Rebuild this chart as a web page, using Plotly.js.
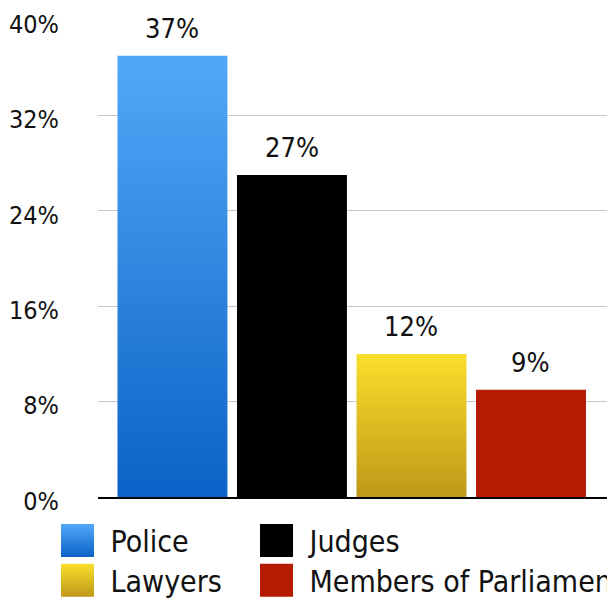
<!DOCTYPE html>
<html>
<head>
<meta charset="utf-8">
<script src="https://cdn.plot.ly/plotly-3.0.1.min.js"></script>
<style>
html,body{margin:0;padding:0;background:#fff;overflow:hidden;}
#chart{width:607px;height:598px;}
</style>
</head>
<body>
<div id="chart"></div>
<script>
var categories = ["Police", "Judges", "Lawyers", "Members of Parliament"];
var values = [37, 27, 12, 9];
var labels = ["37%", "27%", "12%", "9%"];
var legendRows = ["legend", "legend", "legend2", "legend2"];
var topColors = ["#52a8f8", "#000000", "#f9df2c", "#b41b00"];
var bottomColors = ["#0a63c6", "#000000", "#bf9818", "#b41b00"];
var tickVals = [0, 8, 16, 24, 32, 40];
var tickText = ["0%", "8%", "16%", "24%", "32%", "40%"];

var FONT = '"DejaVu Sans Condensed", "DejaVu Sans", sans-serif';

var traces = categories.map(function (c, i) {
  return {
    type: 'bar',
    name: c,
    x: [i],
    y: [values[i]],
    width: 0.92,
    legend: legendRows[i],
    marker: {color: topColors[i], line: {width: 0}},
    hoverinfo: 'none'
  };
});

var annotations = categories.map(function (c, i) {
  return {
    x: i, y: values[i], xref: 'x', yref: 'y',
    text: labels[i], showarrow: false,
    yanchor: 'bottom', yshift: 10,
    font: {family: FONT, size: 27, color: '#111'}
  };
});

function legendSpec(yPos) {
  return {
    orientation: 'h', x: -0.1051, xanchor: 'left', y: yPos, yanchor: 'middle',
    font: {family: FONT, size: 30, color: '#111'},
    itemwidth: 56, entrywidth: 128, entrywidthmode: 'pixels',
    bgcolor: 'rgba(0,0,0,0)', borderwidth: 0,
    traceorder: 'normal', itemclick: false, itemdoubleclick: false
  };
}

var layout = {
  width: 607, height: 598,
  margin: {l: 98, r: 0, t: 20, b: 101, autoexpand: false},
  paper_bgcolor: '#fff', plot_bgcolor: '#fff',
  barmode: 'overlay',
  showlegend: true,
  legend: legendSpec(-0.0910),
  legend2: legendSpec(-0.1745),
  xaxis: {
    range: [-0.623, 3.636], showticklabels: false, ticks: '',
    showgrid: false, zeroline: false, showline: true,
    linecolor: '#000', linewidth: 2, fixedrange: true
  },
  yaxis: {
    range: [0, 40], tickvals: tickVals, ticktext: tickText,
    showgrid: true, gridcolor: '#c8c8c8', gridwidth: 1,
    zeroline: false, showline: false, ticks: '',
    ticklabelstandoff: 38, ticklabelshift: 4,
    tickfont: {family: FONT, size: 25, color: '#111'},
    fixedrange: true
  },
  annotations: annotations
};

function applyGradients(gd) {
  var svg = gd.querySelector('.main-svg');
  var ns = 'http://www.w3.org/2000/svg';
  var defs = document.createElementNS(ns, 'defs');
  categories.forEach(function (c, i) {
    var g = document.createElementNS(ns, 'linearGradient');
    g.setAttribute('id', 'grad' + i);
    g.setAttribute('x1', '0'); g.setAttribute('y1', '0');
    g.setAttribute('x2', '0'); g.setAttribute('y2', '1');
    [[0, topColors[i]], [1, bottomColors[i]]].forEach(function (s) {
      var st = document.createElementNS(ns, 'stop');
      st.setAttribute('offset', s[0]);
      st.setAttribute('stop-color', s[1]);
      g.appendChild(st);
    });
    defs.appendChild(g);
  });
  svg.insertBefore(defs, svg.firstChild);
  var bars = gd.querySelectorAll('.barlayer .trace');
  bars.forEach(function (t, i) {
    t.querySelectorAll('path').forEach(function (p) { p.style.fill = 'url(#grad' + i + ')'; });
  });
  var legendSel = 'g.legend, g.legend2';
  gd.querySelectorAll(legendSel).forEach(function (lg) {
    lg.querySelectorAll('.traces').forEach(function (t) {
      var name = (t.textContent || '').trim();
      var i = categories.indexOf(name);
      if (i < 0) return;
      t.querySelectorAll('.legendpoints path').forEach(function (p) {
        p.setAttribute('d', 'M16.5,16.5H-16.5V-16.5H16.5Z');
        p.style.fill = 'url(#grad' + i + ')';
        p.style.strokeWidth = '0';
      });
    });
    lg.querySelectorAll('[clip-path]').forEach(function (el) { el.removeAttribute('clip-path'); });
  });
}

Plotly.newPlot('chart', traces, layout, {staticPlot: true, displayModeBar: false}).then(applyGradients);
</script>
</body>
</html>
